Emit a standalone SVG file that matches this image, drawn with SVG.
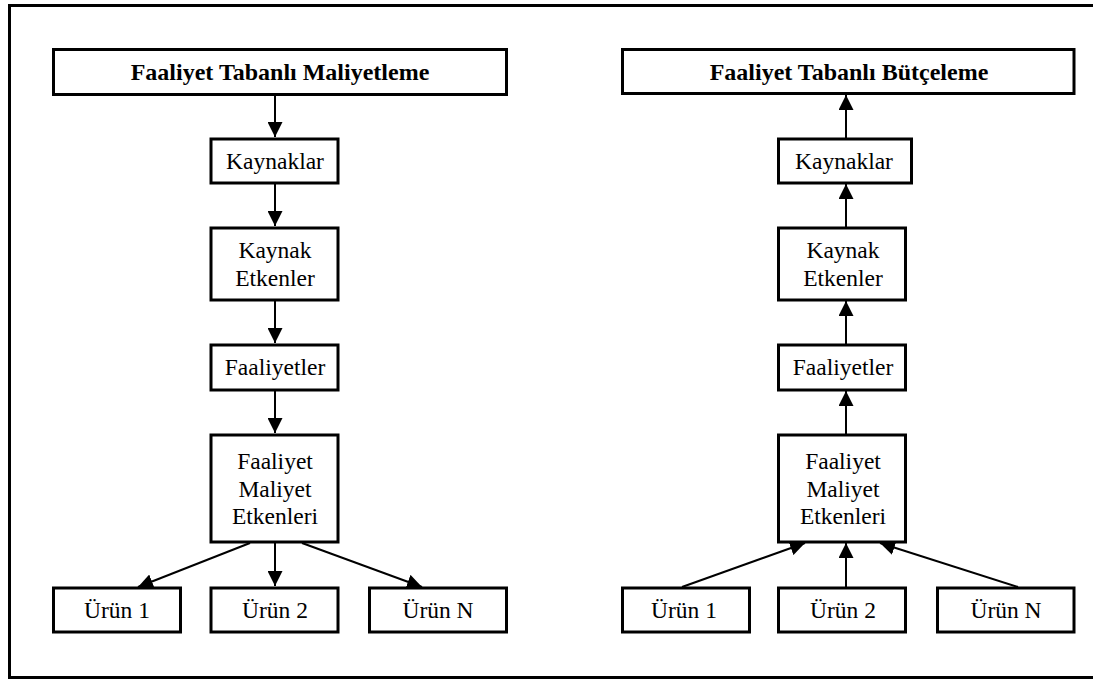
<svg xmlns="http://www.w3.org/2000/svg" width="1093" height="680" viewBox="0 0 1093 680">
<style>
.box{fill:#fff;stroke:#000;stroke-width:3}
.t{font-family:"Liberation Serif","Times New Roman",serif;font-size:23.5px;fill:#000;text-anchor:middle}
.b{font-weight:bold;font-size:24px}
.c{stroke:#000;stroke-width:2;fill:none;marker-end:url(#ah)}
</style>
<defs>
<marker id="ah" viewBox="0 0 15 15" refX="15" refY="7.5" markerWidth="15" markerHeight="15" orient="auto" markerUnits="userSpaceOnUse">
<path d="M0,0 L15,7.5 L0,15 Z" fill="#000"/>
</marker>
</defs>
<rect width="1093" height="680" fill="#fff"/>
<path d="M1095,5.5 H9.5 V677.5 H1095" fill="none" stroke="#000" stroke-width="3"/>

<g id="connectors">
<line class="c" x1="275" y1="95" x2="275" y2="137"/>
<line class="c" x1="275" y1="184" x2="275" y2="226"/>
<line class="c" x1="275" y1="301" x2="275" y2="343"/>
<line class="c" x1="275" y1="391" x2="275" y2="433"/>
<line class="c" x1="275" y1="543" x2="275" y2="586"/>
<line class="c" x1="250" y1="543" x2="138" y2="587"/>
<line class="c" x1="302" y1="543" x2="422" y2="587"/>

<line class="c" x1="846" y1="138" x2="846" y2="95"/>
<line class="c" x1="846" y1="227" x2="846" y2="184"/>
<line class="c" x1="846" y1="344" x2="846" y2="301"/>
<line class="c" x1="846" y1="434" x2="846" y2="391"/>
<line class="c" x1="846" y1="587" x2="846" y2="543"/>
<line class="c" x1="682" y1="587" x2="805" y2="543"/>
<line class="c" x1="1018" y1="587" x2="880" y2="543"/>
</g>

<g id="l-title"><rect class="box" x="53.5" y="49.5" width="453" height="45"/><text class="t b" x="280" y="80">Faaliyet Tabanlı Maliyetleme</text></g>
<g id="l-kaynaklar"><rect class="box" x="211" y="139" width="127" height="44"/><text class="t" x="275" y="169">Kaynaklar</text></g>
<g id="l-kaynak-etkenler"><rect class="box" x="211" y="228" width="127" height="72"/><text class="t" x="275" y="258">Kaynak</text><text class="t" x="275" y="285.5">Etkenler</text></g>
<g id="l-faaliyetler"><rect class="box" x="211" y="345" width="127" height="45"/><text class="t" x="275" y="375">Faaliyetler</text></g>
<g id="l-fme"><rect class="box" x="211" y="435" width="127" height="107"/><text class="t" x="275" y="469">Faaliyet</text><text class="t" x="275" y="496.5">Maliyet</text><text class="t" x="275" y="524">Etkenleri</text></g>
<g id="l-urun1"><rect class="box" x="53.5" y="588" width="127" height="44"/><text class="t" x="117" y="618">Ürün 1</text></g>
<g id="l-urun2"><rect class="box" x="211" y="588" width="127" height="44"/><text class="t" x="275" y="618">Ürün 2</text></g>
<g id="l-urunN"><rect class="box" x="369.5" y="588" width="137" height="44"/><text class="t" x="438" y="618">Ürün N</text></g>

<g id="r-title"><rect class="box" x="622.5" y="49.5" width="451.5" height="44"/><text class="t b" x="849" y="80">Faaliyet Tabanlı Bütçeleme</text></g>
<g id="r-kaynaklar"><rect class="box" x="778.5" y="139" width="133" height="44"/><text class="t" x="844" y="169">Kaynaklar</text></g>
<g id="r-kaynak-etkenler"><rect class="box" x="778.5" y="228" width="127" height="72"/><text class="t" x="843" y="258">Kaynak</text><text class="t" x="843" y="285.5">Etkenler</text></g>
<g id="r-faaliyetler"><rect class="box" x="778.5" y="345" width="127" height="45"/><text class="t" x="843" y="375">Faaliyetler</text></g>
<g id="r-fme"><rect class="box" x="778.5" y="435" width="127" height="107"/><text class="t" x="843" y="469">Faaliyet</text><text class="t" x="843" y="496.5">Maliyet</text><text class="t" x="843" y="524">Etkenleri</text></g>
<g id="r-urun1"><rect class="box" x="622.5" y="588" width="127" height="44"/><text class="t" x="684" y="618">Ürün 1</text></g>
<g id="r-urun2"><rect class="box" x="778.5" y="588" width="127" height="44"/><text class="t" x="843" y="618">Ürün 2</text></g>
<g id="r-urunN"><rect class="box" x="937.5" y="588" width="136.5" height="44"/><text class="t" x="1006" y="618">Ürün N</text></g>
</svg>
